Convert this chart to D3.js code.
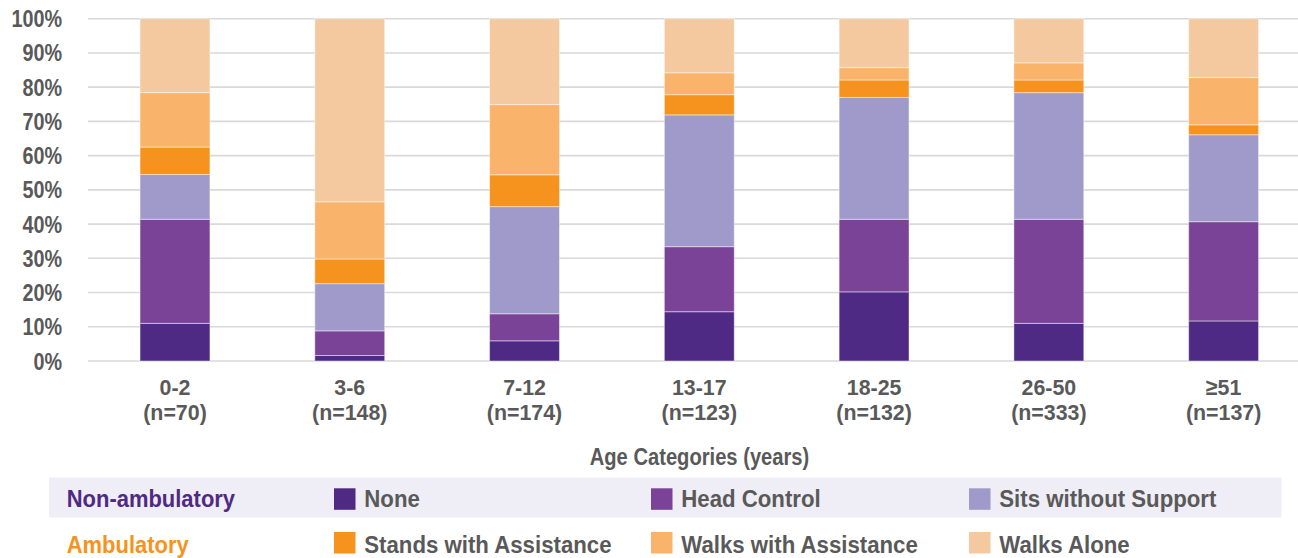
<!DOCTYPE html>
<html>
<head>
<meta charset="utf-8">
<script src="https://cdn.jsdelivr.net/npm/d3@7"></script>
<style>
  html, body { margin: 0; padding: 0; background: #ffffff; }
  svg { display: block; }
  text { font-family: "Liberation Sans", Arial, sans-serif; font-weight: bold; }
</style>
</head>
<body>
<svg id="chart" width="1298" height="558"></svg>
<script>
// Age groups and their sample sizes
const categories = ["0-2", "3-6", "7-12", "13-17", "18-25", "26-50", "≥51"];
const sampleSizes = [70, 148, 174, 123, 132, 333, 137];

// Motor function levels, bottom to top of each bar
const levels = ["None", "Head Control", "Sits without Support",
                "Stands with Assistance", "Walks with Assistance", "Walks Alone"];

// Percentage of each age group at each level
const none                 = [11.0,  1.6,  5.9, 14.4, 20.2, 11.0, 11.7];
const headControl          = [30.4,  7.2,  7.9, 19.0, 21.2, 30.4, 29.0];
const sitsWithoutSupport   = [13.1, 13.8, 31.3, 38.5, 35.6, 37.0, 25.4];
const standsWithAssistance = [ 8.0,  7.2,  9.3,  5.9,  5.1,  3.7,  2.9];
const walksWithAssistance  = [15.9, 16.7, 20.5,  6.4,  3.6,  5.0, 13.8];
const walksAlone           = [21.6, 53.5, 25.1, 15.8, 14.3, 12.9, 17.2];

const yTicks = [0, 10, 20, 30, 40, 50, 60, 70, 80, 90, 100];

// Legend groups
const legendGroups = ["Non-ambulatory", "Ambulatory"];

const seriesValues = [none, headControl, sitsWithoutSupport,
                      standsWithAssistance, walksWithAssistance, walksAlone];
const colors = ["#4e2a84", "#7b4397", "#a09aca", "#f6921e", "#f9b36a", "#f4c9a0"];
const groupColors = ["#4e2a84", "#f6921e"];
const textGray = "#595959";

const rows = categories.map((c, i) => {
  const r = { category: c, n: sampleSizes[i] };
  levels.forEach((lv, k) => { r[lv] = seriesValues[k][i]; });
  return r;
});

const svg = d3.select("#chart");

const x = d3.scaleBand()
  .domain(categories)
  .range([87.6, 1311])
  .paddingInner(0.6)
  .paddingOuter(0.3);

const y = d3.scaleLinear().domain([0, 100]).range([361, 18.7]);

// Text placed with a slight horizontal condensing
function label(parent, str, px, py, size, sx, anchor, fill) {
  return parent.append("text")
    .attr("transform", `translate(${px},${py}) scale(${sx},1)`)
    .attr("text-anchor", anchor)
    .attr("font-size", size)
    .attr("fill", fill)
    .text(str);
}

// Gridlines
svg.append("g")
  .selectAll("line")
  .data(yTicks)
  .join("line")
  .attr("x1", 88)
  .attr("x2", 1311)
  .attr("y1", d => y(d))
  .attr("y2", d => y(d))
  .attr("stroke", "#d9d9d9")
  .attr("stroke-width", 1.6);

// Y axis labels
const yAxis = svg.append("g");
yTicks.forEach(t => {
  label(yAxis, t + "%", 62, y(t) + 8.5, 23, 0.86, "end", textGray);
});

// Stacked bars
const stacked = d3.stack().keys(levels)(rows);
svg.append("g")
  .selectAll("g")
  .data(stacked)
  .join("g")
  .attr("fill", (d, i) => colors[i])
  .selectAll("rect")
  .data(d => d)
  .join("rect")
  .attr("x", d => x(d.data.category))
  .attr("width", x.bandwidth())
  .attr("y", d => y(d[1]))
  .attr("height", d => y(d[0]) - y(d[1]))
  .attr("stroke", "rgba(255,255,255,0.45)")
  .attr("stroke-width", 1);

// X axis labels
const xAxis = svg.append("g");
rows.forEach(r => {
  const cx = x(r.category) + x.bandwidth() / 2;
  label(xAxis, r.category, cx, 395, 23, 0.93, "middle", textGray);
  label(xAxis, `(n=${r.n})`, cx, 419.5, 23, 0.93, "middle", textGray);
});

// Axis title
label(svg, "Age Categories (years)", 699.5, 464.5, 24, 0.84, "middle", textGray);

// Legend
const legend = svg.append("g");
legend.append("rect")
  .attr("x", 49).attr("y", 477.5)
  .attr("width", 1232.5).attr("height", 40)
  .attr("fill", "#efedf5");

const colX = [334, 651, 969];
const rowY = [488.3, 532];
const rowBaseline = [506.7, 552.5];
legendGroups.forEach((g, gi) => {
  label(legend, g, 66.7, rowBaseline[gi], 23.5, 0.935, "start", groupColors[gi]);
  for (let c = 0; c < 3; c++) {
    const k = gi * 3 + c;
    legend.append("rect")
      .attr("x", colX[c]).attr("y", rowY[gi])
      .attr("width", 21.5).attr("height", 21.5)
      .attr("fill", colors[k]);
    label(legend, levels[k], colX[c] + 30.3, rowBaseline[gi], 23.5, 0.945, "start", textGray);
  }
});
</script>
</body>
</html>
